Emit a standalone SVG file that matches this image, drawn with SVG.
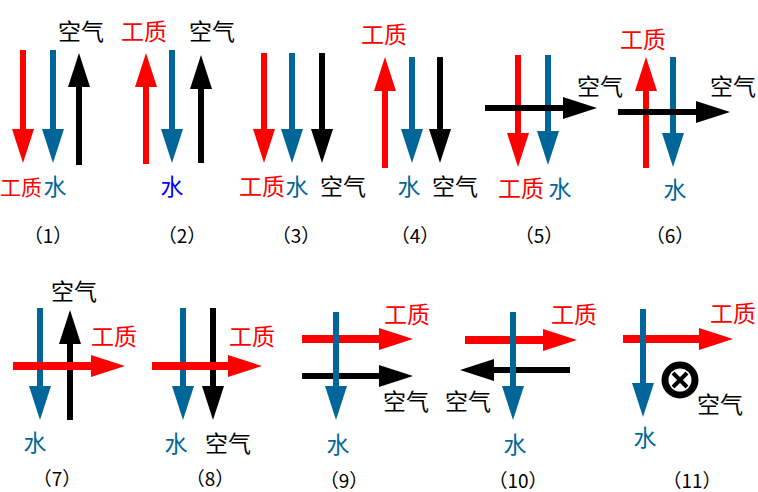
<svg xmlns="http://www.w3.org/2000/svg" width="758" height="492" viewBox="0 0 758 492">
  <style>
    text { font-family: "Noto Sans CJK SC", "Noto Sans", sans-serif; font-size: 23px; text-anchor: middle; }
    .num { font-size: 19px; fill: #000; }
    .r { fill: #ff0000; }
    .b { fill: #006699; }
    .bb { fill: #0000ff; }
    .k { fill: #000; }
    line { fill: none; }
    .lr { stroke: #ff0000; stroke-width: 6; marker-end: url(#hr); }
    .lb { stroke: #006699; stroke-width: 6; marker-end: url(#hb); }
    .lk { stroke: #000; stroke-width: 6; marker-end: url(#hk); }
    .thick { stroke-width: 8; }
  </style>
  <defs>
    <marker id="hr" markerUnits="userSpaceOnUse" markerWidth="34" markerHeight="22" refX="20" refY="11" orient="auto" overflow="visible">
      <path d="M0,0 L34,11 L0,22 z" fill="#ff0000"/>
    </marker>
    <marker id="hb" markerUnits="userSpaceOnUse" markerWidth="34" markerHeight="22" refX="20" refY="11" orient="auto" overflow="visible">
      <path d="M0,0 L34,11 L0,22 z" fill="#006699"/>
    </marker>
    <marker id="hk" markerUnits="userSpaceOnUse" markerWidth="34" markerHeight="22" refX="20" refY="11" orient="auto" overflow="visible">
      <path d="M0,0 L34,11 L0,22 z" fill="#000"/>
    </marker>
  </defs>
  <rect width="758" height="492" fill="#fff"/>

  <!-- flow arrows, grouped by panel; tips sit 14px beyond each line end -->
  <g id="connectors">
    <!-- (1) -->
    <line class="lr" x1="23" y1="50" x2="23" y2="149"/>
    <line class="lb" x1="53" y1="50" x2="53" y2="149"/>
    <line class="lk" x1="79" y1="165" x2="79" y2="67"/>
    <!-- (2) -->
    <line class="lr" x1="146" y1="164" x2="146" y2="67"/>
    <line class="lb" x1="172" y1="50" x2="172" y2="149"/>
    <line class="lk" x1="201" y1="163" x2="201" y2="69"/>
    <!-- (3) -->
    <line class="lr" x1="264" y1="53" x2="264" y2="149"/>
    <line class="lb" x1="292" y1="53" x2="292" y2="149"/>
    <line class="lk" x1="322" y1="53" x2="322" y2="149"/>
    <!-- (4) -->
    <line class="lr" x1="385" y1="168" x2="385" y2="71"/>
    <line class="lb" x1="412" y1="57" x2="412" y2="149"/>
    <line class="lk" x1="440" y1="57" x2="440" y2="149"/>
    <!-- (5) -->
    <line class="lr" x1="518" y1="55" x2="518" y2="153"/>
    <line class="lb" x1="548" y1="55" x2="548" y2="151"/>
    <line class="lk" x1="485" y1="108" x2="583" y2="108"/>
    <!-- (6) -->
    <line class="lr" x1="646" y1="168" x2="646" y2="71"/>
    <line class="lb" x1="673" y1="57" x2="673" y2="153"/>
    <line class="lk" x1="618" y1="112" x2="716" y2="112"/>
    <!-- (7) -->
    <line class="lb" x1="40" y1="308" x2="40" y2="406"/>
    <line class="lk" x1="70" y1="420" x2="70" y2="324"/>
    <line class="lr thick" x1="13" y1="366" x2="111" y2="366"/>
    <!-- (8) -->
    <line class="lb" x1="183" y1="308" x2="183" y2="406"/>
    <line class="lk" x1="213" y1="308" x2="213" y2="406"/>
    <line class="lr thick" x1="152" y1="366" x2="248" y2="366"/>
    <!-- (9) -->
    <line class="lr thick" x1="302" y1="339" x2="399" y2="339"/>
    <line class="lk" x1="302" y1="376" x2="399" y2="376"/>
    <line class="lb" x1="336" y1="312" x2="336" y2="406"/>
    <!-- (10) -->
    <line class="lr thick" x1="465" y1="340" x2="563" y2="340"/>
    <line class="lk" x1="570" y1="370" x2="474" y2="370"/>
    <line class="lb" x1="513" y1="312" x2="513" y2="406"/>
    <!-- (11) -->
    <line class="lr thick" x1="623" y1="339" x2="719" y2="339"/>
    <line class="lb" x1="643" y1="309" x2="643" y2="403"/>
  </g>

  <!-- air flowing into the page -->
  <g id="air-into-page">
    <circle cx="680" cy="380" r="15" fill="#fff" stroke="#000" stroke-width="7"/>
    <path d="M673,373 L687,387 M687,373 L673,387" stroke="#000" stroke-width="4"/>
  </g>

  <g id="panel-1">
    <text class="k" x="81" y="40">空气</text>
    <text class="r" x="21" y="195" style="font-size:21px">工质</text>
    <text class="b" x="55" y="195">水</text>
    <text class="num" x="48" y="243">（1）</text>
  </g>
  <g id="panel-2">
    <text class="r" x="144" y="40">工质</text>
    <text class="k" x="212" y="40">空气</text>
    <text class="bb" x="172" y="195">水</text>
    <text class="num" x="182" y="243">（2）</text>
  </g>
  <g id="panel-3">
    <text class="r" x="262" y="195">工质</text>
    <text class="b" x="297" y="195">水</text>
    <text class="k" x="343" y="195">空气</text>
    <text class="num" x="296" y="243">（3）</text>
  </g>
  <g id="panel-4">
    <text class="r" x="384" y="43">工质</text>
    <text class="b" x="409" y="195">水</text>
    <text class="k" x="455" y="195">空气</text>
    <text class="num" x="415" y="243">（4）</text>
  </g>
  <g id="panel-5">
    <text class="k" x="600" y="95">空气</text>
    <text class="r" x="521" y="197">工质</text>
    <text class="b" x="560" y="197">水</text>
    <text class="num" x="539" y="243">（5）</text>
  </g>
  <g id="panel-6">
    <text class="r" x="643" y="48">工质</text>
    <text class="k" x="733" y="95">空气</text>
    <text class="b" x="675" y="198">水</text>
    <text class="num" x="670" y="243">（6）</text>
  </g>
  <g id="panel-7">
    <text class="k" x="74" y="300">空气</text>
    <text class="r" x="114" y="345">工质</text>
    <text class="b" x="35" y="451">水</text>
    <text class="num" x="57" y="486">（7）</text>
  </g>
  <g id="panel-8">
    <text class="r" x="252" y="345">工质</text>
    <text class="b" x="176" y="452">水</text>
    <text class="k" x="228" y="452">空气</text>
    <text class="num" x="210" y="486">（8）</text>
  </g>
  <g id="panel-9">
    <text class="r" x="407" y="323">工质</text>
    <text class="k" x="406" y="410">空气</text>
    <text class="b" x="338" y="453">水</text>
    <text class="num" x="344" y="488">（9）</text>
  </g>
  <g id="panel-10">
    <text class="r" x="574" y="323">工质</text>
    <text class="k" x="468" y="410">空气</text>
    <text class="b" x="515" y="453">水</text>
    <text class="num" x="518" y="488">（10）</text>
  </g>
  <g id="panel-11">
    <text class="r" x="733" y="322">工质</text>
    <text class="k" x="720" y="413">空气</text>
    <text class="b" x="645" y="446">水</text>
    <text class="num" x="692" y="488">（11）</text>
  </g>
</svg>
